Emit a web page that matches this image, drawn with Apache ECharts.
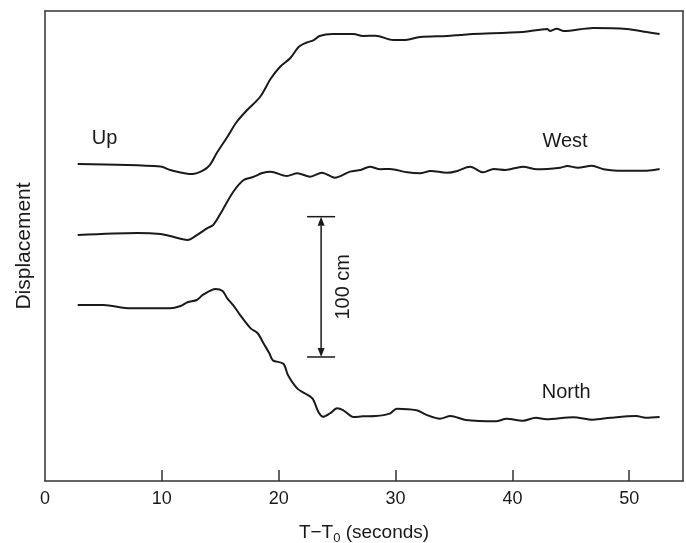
<!DOCTYPE html>
<html>
<head>
<meta charset="utf-8">
<script src="https://cdn.jsdelivr.net/npm/echarts@6/dist/echarts.min.js"></script>
<style>
  html, body { margin: 0; padding: 0; background: #fff; }
  #chart { width: 686px; height: 543px; }
</style>
</head>
<body>
<div id="chart"></div>
<script>
// Time after origin (s) and displacement (cm), each trace offset vertically.
const upTrace = [
  [2.8,225.9],[9.9,224.2],[10.7,221.7],[12.6,218.8],[13.5,221.2],[14.1,225.2],
  [14.7,233.8],[15.6,245.2],[16.4,255.9],[17.3,264.4],[18.4,273.7],[19.3,286.5],
  [20.1,295.1],[21.0,301.5],[21.7,309.3],[22.3,312.2],[23.0,314.3],[23.5,317.2],
  [24.6,318.6],[26.4,318.6],[27.2,317.2],[28.3,317.4],[29.8,314.3],[30.7,314.3],
  [32.1,316.5],[34.4,317.2],[35.5,317.9],[36.6,318.6],[40.9,320.0],[43.0,322.2],
  [43.2,320.7],[43.8,322.4],[44.4,320.7],[46.9,322.9],[49.8,322.2],[51.5,320.0],
  [52.6,318.6]
];
const westTrace = [
  [2.8,175.3],[7.9,176.8],[9.9,176.1],[10.7,174.6],[12.2,171.8],[13.0,175.3],
  [13.9,180.3],[14.4,182.5],[15.2,193.2],[16.1,206.0],[17.0,214.5],[17.8,216.7],
  [18.6,219.5],[19.3,220.5],[20.7,217.4],[21.6,219.3],[22.7,216.9],[23.7,219.7],
  [24.8,216.2],[26.1,220.5],[27.0,221.7],[27.8,224.0],[28.7,222.2],[29.5,222.4],
  [31.0,220.0],[32.1,219.3],[33.0,221.0],[34.4,219.7],[35.3,221.0],[36.1,223.6],
  [36.4,224.0],[37.5,220.0],[38.4,222.4],[39.4,221.7],[40.9,224.0],[42.1,222.2],
  [44.1,223.3],[44.7,224.5],[45.6,223.3],[46.8,224.7],[47.8,222.2],[49.0,221.2],
  [51.5,221.2],[52.6,222.4]
];
const northTrace = [
  [2.8,125.4],[5.0,125.4],[7.3,123.1],[10.7,123.1],[11.6,124.7],[12.2,127.4],
  [13.0,129.0],[13.5,132.6],[14.6,136.9],[15.2,135.4],[15.6,130.2],[16.1,125.4],
  [16.7,118.3],[17.6,108.8],[18.2,105.3],[18.7,98.1],[19.2,91.0],[19.5,86.0],
  [20.4,83.6],[20.8,75.3],[21.6,65.8],[22.3,62.2],[22.9,58.7],[23.4,49.2],
  [23.8,45.8],[24.4,48.3],[25.0,51.8],[25.5,50.6],[26.4,45.6],[27.2,46.1],
  [28.3,46.3],[29.5,48.0],[30.1,51.5],[31.8,50.4],[32.6,47.3],[33.8,44.4],
  [34.7,46.3],[36.0,43.5],[38.6,42.6],[39.5,44.4],[40.9,43.0],[42.0,45.1],
  [42.9,44.0],[45.2,45.4],[46.9,43.7],[48.4,45.1],[50.6,46.3],[51.4,45.1],
  [52.6,45.6]
];
// Trace names with the point where each one is written.
const traceLabels = [
  [5.1, 243.8, 'Up'],
  [44.5, 242.3, 'West'],
  [44.6, 63.1, 'North']
];
// 100 cm scale bar: time position, bottom and top displacement, cap half-width.
const scaleBar = { t: 23.63, from: 88.4, to: 188.4, cap: 1.2, text: '100 cm' };

const xTickValues = [0, 10, 20, 30, 40, 50];
const xMax = 54.6;
const yMax = 335;

const ink = '#1a1a1a';
const frame = '#333333';
const fontFamily = 'Liberation Sans, Arial, Helvetica, sans-serif';

const chart = echarts.init(document.getElementById('chart'));

function traceSeries(name, data) {
  return {
    name: name,
    type: 'line',
    data: data,
    smooth: 0.3,
    showSymbol: false,
    symbol: 'none',
    lineStyle: { color: ink, width: 2 },
    silent: true,
    animation: false
  };
}

function renderTraceLabel(params, api) {
  const p = api.coord([api.value(0), api.value(1)]);
  return {
    type: 'text',
    x: p[0],
    y: p[1],
    style: {
      text: traceLabels[params.dataIndex][2],
      fill: ink,
      font: '20px ' + fontFamily,
      align: 'center',
      verticalAlign: 'middle'
    }
  };
}

function renderScaleBar(params, api) {
  const top = api.coord([scaleBar.t, scaleBar.to]);
  const bot = api.coord([scaleBar.t, scaleBar.from]);
  const capL = api.coord([scaleBar.t - scaleBar.cap, scaleBar.to])[0];
  const capR = api.coord([scaleBar.t + scaleBar.cap, scaleBar.to])[0];
  const x = top[0];
  const ah = 9, aw = 3.5;
  const stroke = { stroke: ink, lineWidth: 1.5 };
  return {
    type: 'group',
    children: [
      { type: 'line', shape: { x1: capL, y1: top[1], x2: capR, y2: top[1] }, style: stroke },
      { type: 'line', shape: { x1: capL, y1: bot[1], x2: capR, y2: bot[1] }, style: stroke },
      { type: 'line', shape: { x1: x, y1: top[1] + ah, x2: x, y2: bot[1] - ah }, style: stroke },
      { type: 'polygon', shape: { points: [[x, top[1]], [x - aw, top[1] + ah], [x + aw, top[1] + ah]] }, style: { fill: ink } },
      { type: 'polygon', shape: { points: [[x, bot[1]], [x - aw, bot[1] - ah], [x + aw, bot[1] - ah]] }, style: { fill: ink } },
      {
        type: 'text',
        x: x + 22,
        y: (top[1] + bot[1]) / 2,
        rotation: Math.PI / 2,
        style: {
          text: scaleBar.text,
          fill: ink,
          font: '20px ' + fontFamily,
          align: 'center',
          verticalAlign: 'middle'
        }
      }
    ]
  };
}

chart.setOption({
  animation: false,
  backgroundColor: '#ffffff',
  grid: { left: 45, right: 3, top: 11, bottom: 62, containLabel: false, outerBoundsMode: 'none' },
  xAxis: [
    {
      type: 'value',
      min: 0,
      max: xMax,
      position: 'bottom',
      axisLine: { show: true, onZero: false, lineStyle: { color: frame, width: 1.5 } },
      axisTick: { show: true, inside: true, length: 11, customValues: xTickValues.slice(1), lineStyle: { color: frame, width: 1.5 } },
      axisLabel: { show: true, customValues: xTickValues, margin: 9, color: ink, fontSize: 18, fontFamily: fontFamily },
      splitLine: { show: false },
      name: 'T\u2212T{sub|0} (seconds)',
      nameLocation: 'middle',
      nameGap: 39,
      nameTextStyle: {
        color: ink, fontSize: 19, fontFamily: fontFamily,
        rich: { sub: { fontSize: 13, color: ink, fontFamily: fontFamily, padding: [12, 0, 0, 0] } }
      }
    },
    {
      type: 'value',
      min: 0,
      max: xMax,
      position: 'top',
      axisLine: { show: true, onZero: false, lineStyle: { color: frame, width: 1.5 } },
      axisTick: { show: false },
      axisLabel: { show: false },
      splitLine: { show: false }
    }
  ],
  yAxis: [
    {
      type: 'value',
      min: 0,
      max: yMax,
      position: 'left',
      axisLine: { show: true, onZero: false, lineStyle: { color: frame, width: 1.5 } },
      axisTick: { show: false },
      axisLabel: { show: false },
      splitLine: { show: false },
      name: 'Displacement',
      nameLocation: 'middle',
      nameRotate: 90,
      nameGap: 10,
      nameTextStyle: { color: ink, fontSize: 21, fontFamily: fontFamily }
    },
    {
      type: 'value',
      min: 0,
      max: yMax,
      position: 'right',
      axisLine: { show: true, onZero: false, lineStyle: { color: frame, width: 1.5 } },
      axisTick: { show: false },
      axisLabel: { show: false },
      splitLine: { show: false }
    }
  ],
  series: [
    traceSeries('Up', upTrace),
    traceSeries('West', westTrace),
    traceSeries('North', northTrace),
    {
      name: 'labels',
      type: 'custom',
      renderItem: renderTraceLabel,
      data: traceLabels.map(d => [d[0], d[1]]),
      silent: true
    },
    {
      name: 'scale',
      type: 'custom',
      renderItem: renderScaleBar,
      data: [[scaleBar.t, scaleBar.from]],
      silent: true
    }
  ]
});
</script>
</body>
</html>
